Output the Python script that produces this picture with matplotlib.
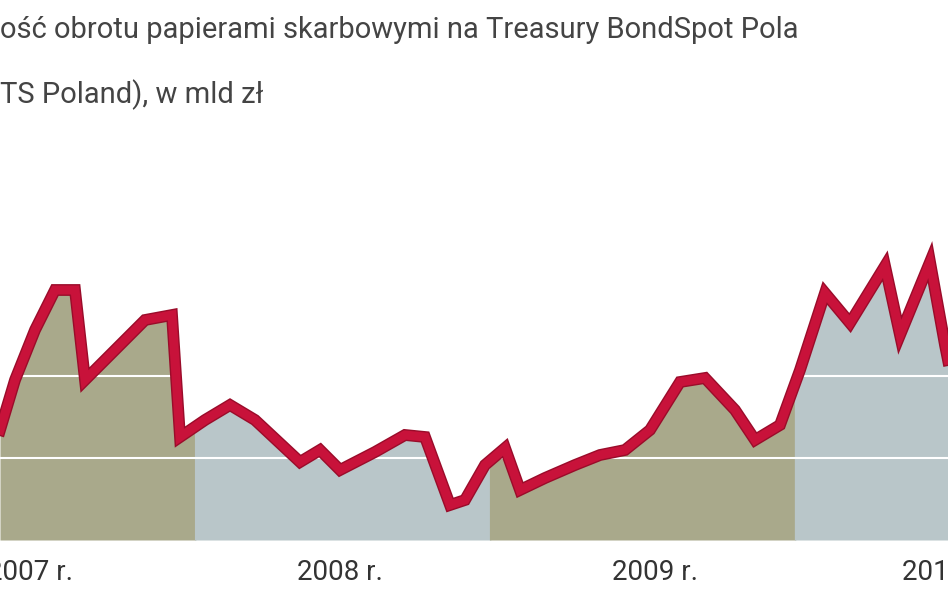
import matplotlib
matplotlib.use("Agg")
import matplotlib.pyplot as plt
import numpy as np

# time index (horizontal units across the cropped view)
t = [0, 15, 35, 55, 75, 85, 110, 145, 172, 180, 205, 230, 255, 300, 320, 340, 375, 405, 425,
     450, 465, 485, 505, 520, 545, 575, 600, 625, 650, 680, 705, 735, 755, 780, 800, 825, 850,
     885, 900, 930, 945, 948]
ypix = [430, 380, 330, 290, 290, 380, 355, 320, 315, 437, 420, 405, 420, 462, 450, 470, 452, 435, 437,
        505, 500, 465, 448, 490, 478, 465, 455, 450, 430, 382, 378, 410, 440, 425, 370, 293, 323,
        266, 335, 262, 345, 360]
values = [(540 - p) / 8.2 for p in ypix]  # bn zł (approx.)

years = ["2007 r.", "2008 r.", "2009 r.", "2010 r."]
year_start = [-110, 195, 490, 795]
year_end = [195, 490, 795, 1100]
label_pos = [30, 340, 655, 945]
band_colors = ["#a9a98b", "#b9c6c9", "#a9a98b", "#b9c6c9"]

fig = plt.figure(figsize=(9.48, 5.93), dpi=100)
ax = fig.add_axes([0, 53/593, 1, 540/593])
ax.set_xlim(0, 948)
ax.set_ylim(0, 540/8.2)
ax.axis("off")

tt = np.array(t, float); vv = np.array(values)
fine = np.linspace(tt[0], tt[-1], 2000)
fv = np.interp(fine, tt, vv)
for s, e, c in zip(year_start, year_end, band_colors):
    m = (fine >= s - 1) & (fine <= e + 1)
    ax.fill_between(fine[m], 0, fv[m], color=c, lw=0, zorder=1)
for g in [10, 20]:
    ax.axhline(g, color="white", lw=1.5, zorder=2)
ax.plot(t, values, color="#9a0c2a", lw=8.5, solid_joinstyle="miter", zorder=3)
ax.plot(t, values, color="#c8123a", lw=6.5, solid_joinstyle="miter", zorder=4)

for lab, x in zip(years, label_pos):
    fig.text(x/948, 1 - 573/593, lab, ha="center", va="center", fontsize=20,
             family="Roboto", color="#333333")

fig.text(0.0, 1 - 30/593, "ość obrotu papierami skarbowymi na Treasury BondSpot Pola",
         fontsize=21, family="Roboto", color="#444444", va="center", ha="left")
fig.text(0.0, 1 - 95/593, "TS Poland), w mld zł",
         fontsize=21, family="Roboto", color="#444444", va="center", ha="left")

fig.savefig("out.png", dpi=100, facecolor="white")
